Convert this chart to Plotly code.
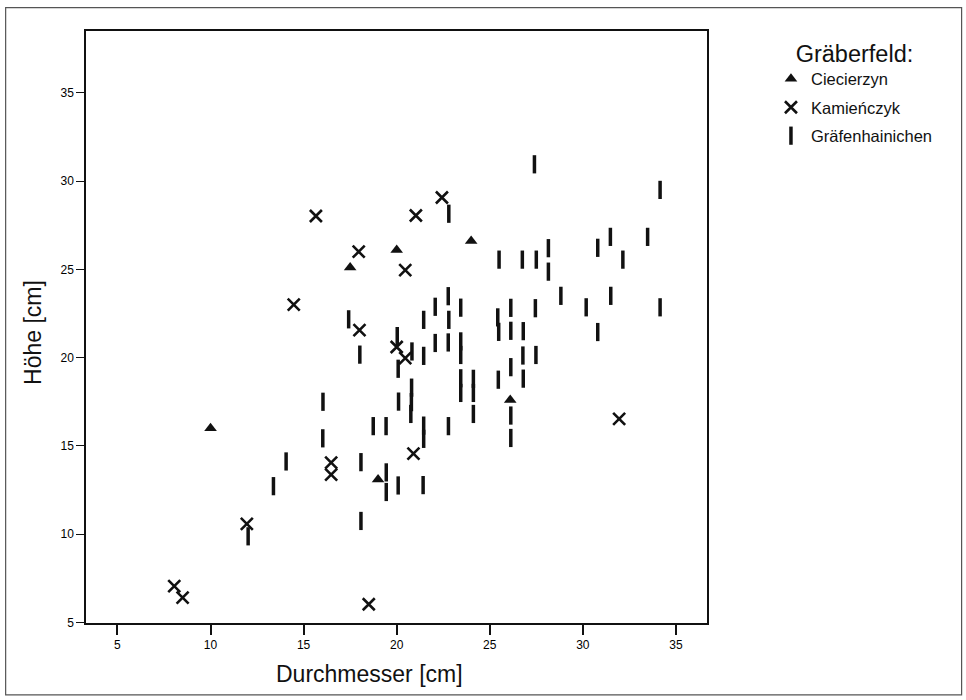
import plotly.graph_objects as go

# Ciecierzyn
cie_x = [10.0, 17.5, 20.0, 24.0, 19.0, 26.1]
cie_y = [16.0, 25.1, 26.1, 26.6, 13.1, 17.6]

# Kamieńczyk
kam_x = [8.05, 8.5, 11.95, 14.47, 15.66, 17.96, 18.0, 16.48, 16.48, 18.5,
         20.0, 20.46, 20.46, 21.03, 22.43, 20.9, 31.95]
kam_y = [7.06, 6.41, 10.58, 23.0, 28.02, 26.0, 21.56, 14.05, 13.37, 6.03,
         20.6, 19.97, 24.96, 28.05, 29.07, 14.56, 16.53]

# Gräfenhainichen
gra_x = [27.4, 34.15, 22.8, 25.5, 26.75, 27.5, 28.15, 28.15, 30.8, 31.48,
         33.48, 32.15, 28.82, 30.18, 31.5, 34.15, 30.8, 27.45, 27.48, 26.8,
         26.78, 26.8, 26.13, 26.13, 26.13, 26.13, 26.13, 25.43, 25.48, 25.46,
         24.12, 24.12, 24.12, 23.44, 23.44, 23.44, 23.44, 23.44, 22.77, 22.8,
         22.77, 22.78, 22.07, 22.07, 21.45, 21.45, 21.45, 21.45, 21.42, 20.82,
         20.8, 20.79, 20.76, 20.03, 20.08, 20.1, 20.08, 19.43, 19.44, 19.44,
         18.74, 18.02, 18.08, 18.08, 17.42, 16.04, 16.03, 14.06, 13.38, 12.02]
gra_y = [30.95, 29.5, 28.15, 25.55, 25.55, 25.55, 26.2, 24.87, 26.22, 26.84,
         26.84, 25.55, 23.5, 22.85, 23.5, 22.85, 21.45, 22.8, 20.15, 21.5,
         20.12, 18.81, 22.82, 21.52, 19.46, 16.72, 15.45, 22.28, 21.46, 18.75,
         18.8, 18.0, 16.81, 22.83, 20.92, 20.15, 18.83, 18.0, 23.48, 22.14,
         20.86, 16.12, 22.88, 20.83, 22.14, 20.1, 16.15, 15.4, 12.78, 20.35,
         18.3, 17.48, 16.81, 21.22, 19.37, 17.51, 12.76, 16.12, 13.5, 12.39,
         16.12, 20.17, 14.08, 10.75, 22.17, 17.5, 15.43, 14.12, 12.72, 9.88]

x_ticks = [5, 10, 15, 20, 25, 30, 35]
y_ticks = [5, 10, 15, 20, 25, 30, 35]
x_title = "Durchmesser [cm]"
y_title = "Höhe [cm]"
legend_title = "Gräberfeld:"

NARROW = "Liberation Sans Narrow, Liberation Sans, Arial, sans-serif"
SANS = "Liberation Sans, Arial, sans-serif"
INK = "#111111"

fig = go.Figure()
fig.add_trace(go.Scatter(
    x=cie_x, y=cie_y, mode="markers", name="Ciecierzyn", legendgroup="c",
    marker=dict(symbol="triangle-up", size=11, color=INK, line=dict(width=0)),
))
fig.add_trace(go.Scatter(
    x=kam_x, y=kam_y, mode="markers", name="Kamieńczyk", legendgroup="k",
    marker=dict(symbol="x-thin", size=12, color=INK, line=dict(width=2.6, color=INK)),
))
fig.add_trace(go.Scatter(
    x=gra_x, y=gra_y, mode="markers", name="Gräfenhainichen", legendgroup="g",
    marker=dict(symbol="line-ns", size=13, color=INK, line=dict(width=3.5, color=INK)),
))

fig.update_layout(
    template="none",
    width=966, height=700,
    margin=dict(l=86, r=259, t=31, b=77),
    paper_bgcolor="white", plot_bgcolor="white",
    font=dict(family=SANS, color=INK),
    showlegend=True,
    legend=dict(
        x=1.103, y=1.0, xanchor="left", yanchor="top",
        title=dict(text=legend_title, side="top center",
                   font=dict(size=23.5, family=SANS, color=INK)),
        font=dict(size=16.5, family=SANS, color=INK),
        itemwidth=30, bgcolor="rgba(0,0,0,0)",
        traceorder="grouped", tracegroupgap=4,
    ),
    xaxis=dict(
        range=[3.31, 36.67], tickvals=x_ticks, ticktext=[str(v) for v in x_ticks],
        ticks="outside", ticklen=10, tickwidth=1.5, tickcolor=INK,
        showline=True, linecolor=INK, linewidth=1.5, mirror=True,
        showgrid=False, zeroline=False,
        tickfont=dict(size=12, family=NARROW, color="#000000"),
    ),
    yaxis=dict(
        range=[4.97, 38.5], tickvals=y_ticks, ticktext=[str(v) for v in y_ticks],
        ticks="outside", ticklen=8, tickwidth=1, tickcolor=INK,
        showline=True, linecolor=INK, linewidth=1.5, mirror=True,
        showgrid=False, zeroline=False,
        tickfont=dict(size=12, family=NARROW, color="#000000"),
    ),
    annotations=[
        dict(text=x_title, xref="paper", yref="paper", x=0.456, y=-0.0858,
             xanchor="center", yanchor="middle", showarrow=False,
             font=dict(size=23, family=SANS, color=INK)),
        dict(text=y_title, xref="paper", yref="paper", x=-0.0853, y=0.49,
             xanchor="center", yanchor="middle", showarrow=False, textangle=-90,
             font=dict(size=23, family=SANS, color=INK)),
    ],
    shapes=[dict(type="rect", xref="paper", yref="paper",
                 x0=-0.1294, x1=1.41, y0=-0.1213, y1=1.0394,
                 line=dict(color="#555555", width=1.2), fillcolor="rgba(0,0,0,0)", layer="below")],
)

fig.write_html("out.html", config={"displayModeBar": False},
               post_script="document.body.style.margin='0';")
